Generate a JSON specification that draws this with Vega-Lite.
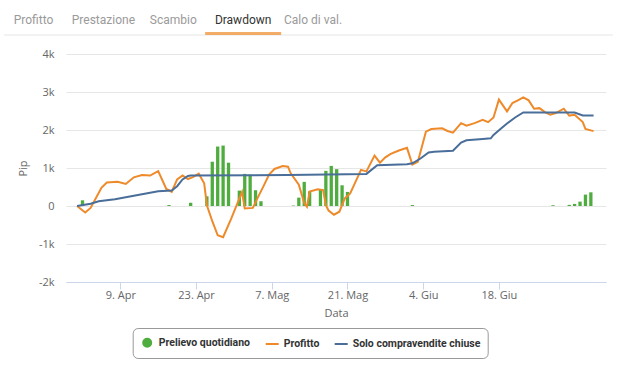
{
  "$schema": "https://vega.github.io/schema/vega-lite/v6.json",
  "padding": {"left": 3, "top": 0, "right": 0, "bottom": 0},
  "autosize": {"type": "pad"},
  "bounds": "flush",
  "spacing": 19,
  "config": {
    "view": {"stroke": null},
    "font": "Open Sans",
    "axis": {"labelFont": "Open Sans", "titleFont": "Open Sans", "labelColor": "#666666", "titleColor": "#666666", "labelFontSize": 11, "titleFontSize": 11, "titleFontWeight": "normal"}
  },
  "datasets": {
    "tabs": [
      {"tab": "Profitto", "active": false},
      {"tab": "Prestazione", "active": false},
      {"tab": "Scambio", "active": false},
      {"tab": "Drawdown", "active": true},
      {"tab": "Calo di val.", "active": false}
    ],
    "series": [
      {"d": "2018-04-02T00:00Z", "s": "Prelievo quotidiano", "v": 150},
      {"d": "2018-04-18T00:00Z", "s": "Prelievo quotidiano", "v": 25},
      {"d": "2018-04-22T00:00Z", "s": "Prelievo quotidiano", "v": 85},
      {"d": "2018-04-25T00:00Z", "s": "Prelievo quotidiano", "v": 255},
      {"d": "2018-04-26T00:00Z", "s": "Prelievo quotidiano", "v": 1165},
      {"d": "2018-04-27T00:00Z", "s": "Prelievo quotidiano", "v": 1565},
      {"d": "2018-04-28T00:00Z", "s": "Prelievo quotidiano", "v": 1590},
      {"d": "2018-04-29T00:00Z", "s": "Prelievo quotidiano", "v": 1140},
      {"d": "2018-05-01T00:00Z", "s": "Prelievo quotidiano", "v": 405},
      {"d": "2018-05-02T00:00Z", "s": "Prelievo quotidiano", "v": 845},
      {"d": "2018-05-03T00:00Z", "s": "Prelievo quotidiano", "v": 825},
      {"d": "2018-05-04T00:00Z", "s": "Prelievo quotidiano", "v": 415},
      {"d": "2018-05-05T00:00Z", "s": "Prelievo quotidiano", "v": 125},
      {"d": "2018-05-11T00:00Z", "s": "Prelievo quotidiano", "v": 12},
      {"d": "2018-05-12T00:00Z", "s": "Prelievo quotidiano", "v": 220},
      {"d": "2018-05-13T00:00Z", "s": "Prelievo quotidiano", "v": 635},
      {"d": "2018-05-14T00:00Z", "s": "Prelievo quotidiano", "v": 385},
      {"d": "2018-05-16T00:00Z", "s": "Prelievo quotidiano", "v": 430},
      {"d": "2018-05-17T00:00Z", "s": "Prelievo quotidiano", "v": 925},
      {"d": "2018-05-18T00:00Z", "s": "Prelievo quotidiano", "v": 1055},
      {"d": "2018-05-19T00:00Z", "s": "Prelievo quotidiano", "v": 970},
      {"d": "2018-05-20T00:00Z", "s": "Prelievo quotidiano", "v": 545},
      {"d": "2018-05-21T00:00Z", "s": "Prelievo quotidiano", "v": 370},
      {"d": "2018-06-02T00:00Z", "s": "Prelievo quotidiano", "v": 25},
      {"d": "2018-06-28T00:00Z", "s": "Prelievo quotidiano", "v": 20},
      {"d": "2018-07-01T00:00Z", "s": "Prelievo quotidiano", "v": 30},
      {"d": "2018-07-02T00:00Z", "s": "Prelievo quotidiano", "v": 55},
      {"d": "2018-07-03T00:00Z", "s": "Prelievo quotidiano", "v": 115},
      {"d": "2018-07-04T00:00Z", "s": "Prelievo quotidiano", "v": 300},
      {"d": "2018-07-05T00:00Z", "s": "Prelievo quotidiano", "v": 360},

      {"d": "2018-04-01T00:00Z", "s": "Profitto", "v": 0},
      {"d": "2018-04-02T12:00Z", "s": "Profitto", "v": -170},
      {"d": "2018-04-03T12:00Z", "s": "Profitto", "v": -50},
      {"d": "2018-04-05T12:00Z", "s": "Profitto", "v": 480},
      {"d": "2018-04-06T12:00Z", "s": "Profitto", "v": 620},
      {"d": "2018-04-08T12:00Z", "s": "Profitto", "v": 640},
      {"d": "2018-04-10T00:00Z", "s": "Profitto", "v": 580},
      {"d": "2018-04-11T12:00Z", "s": "Profitto", "v": 755},
      {"d": "2018-04-13T00:00Z", "s": "Profitto", "v": 815},
      {"d": "2018-04-14T12:00Z", "s": "Profitto", "v": 800},
      {"d": "2018-04-16T00:00Z", "s": "Profitto", "v": 920},
      {"d": "2018-04-17T12:00Z", "s": "Profitto", "v": 450},
      {"d": "2018-04-18T12:00Z", "s": "Profitto", "v": 375},
      {"d": "2018-04-19T12:00Z", "s": "Profitto", "v": 700},
      {"d": "2018-04-20T12:00Z", "s": "Profitto", "v": 805},
      {"d": "2018-04-21T12:00Z", "s": "Profitto", "v": 710},
      {"d": "2018-04-22T12:00Z", "s": "Profitto", "v": 765},
      {"d": "2018-04-23T12:00Z", "s": "Profitto", "v": 850},
      {"d": "2018-04-24T12:00Z", "s": "Profitto", "v": 600},
      {"d": "2018-04-25T00:00Z", "s": "Profitto", "v": 20},
      {"d": "2018-04-26T00:00Z", "s": "Profitto", "v": -400},
      {"d": "2018-04-27T00:00Z", "s": "Profitto", "v": -770},
      {"d": "2018-04-28T00:00Z", "s": "Profitto", "v": -820},
      {"d": "2018-04-29T12:00Z", "s": "Profitto", "v": -330},
      {"d": "2018-05-01T12:00Z", "s": "Profitto", "v": 370},
      {"d": "2018-05-02T00:00Z", "s": "Profitto", "v": -65},
      {"d": "2018-05-03T12:00Z", "s": "Profitto", "v": -50},
      {"d": "2018-05-04T12:00Z", "s": "Profitto", "v": 245},
      {"d": "2018-05-05T12:00Z", "s": "Profitto", "v": 530},
      {"d": "2018-05-06T12:00Z", "s": "Profitto", "v": 830},
      {"d": "2018-05-07T12:00Z", "s": "Profitto", "v": 975},
      {"d": "2018-05-09T00:00Z", "s": "Profitto", "v": 1050},
      {"d": "2018-05-10T00:00Z", "s": "Profitto", "v": 1035},
      {"d": "2018-05-10T12:00Z", "s": "Profitto", "v": 860},
      {"d": "2018-05-12T00:00Z", "s": "Profitto", "v": 560},
      {"d": "2018-05-13T00:00Z", "s": "Profitto", "v": 80},
      {"d": "2018-05-13T12:00Z", "s": "Profitto", "v": -20},
      {"d": "2018-05-14T00:00Z", "s": "Profitto", "v": 380},
      {"d": "2018-05-15T12:00Z", "s": "Profitto", "v": 440},
      {"d": "2018-05-16T12:00Z", "s": "Profitto", "v": 420},
      {"d": "2018-05-17T00:00Z", "s": "Profitto", "v": 20},
      {"d": "2018-05-17T12:00Z", "s": "Profitto", "v": -120},
      {"d": "2018-05-18T12:00Z", "s": "Profitto", "v": -230},
      {"d": "2018-05-19T12:00Z", "s": "Profitto", "v": -150},
      {"d": "2018-05-20T12:00Z", "s": "Profitto", "v": 200},
      {"d": "2018-05-21T12:00Z", "s": "Profitto", "v": 330},
      {"d": "2018-05-22T12:00Z", "s": "Profitto", "v": 640},
      {"d": "2018-05-23T12:00Z", "s": "Profitto", "v": 950},
      {"d": "2018-05-24T12:00Z", "s": "Profitto", "v": 910},
      {"d": "2018-05-26T00:00Z", "s": "Profitto", "v": 1325},
      {"d": "2018-05-27T00:00Z", "s": "Profitto", "v": 1140},
      {"d": "2018-05-28T00:00Z", "s": "Profitto", "v": 1280},
      {"d": "2018-05-29T00:00Z", "s": "Profitto", "v": 1370},
      {"d": "2018-05-30T12:00Z", "s": "Profitto", "v": 1460},
      {"d": "2018-06-01T00:00Z", "s": "Profitto", "v": 1530},
      {"d": "2018-06-02T00:00Z", "s": "Profitto", "v": 1090},
      {"d": "2018-06-03T00:00Z", "s": "Profitto", "v": 1160},
      {"d": "2018-06-04T12:00Z", "s": "Profitto", "v": 1955},
      {"d": "2018-06-05T12:00Z", "s": "Profitto", "v": 2025},
      {"d": "2018-06-07T12:00Z", "s": "Profitto", "v": 2045},
      {"d": "2018-06-08T12:00Z", "s": "Profitto", "v": 1975},
      {"d": "2018-06-09T12:00Z", "s": "Profitto", "v": 1930},
      {"d": "2018-06-11T00:00Z", "s": "Profitto", "v": 2180},
      {"d": "2018-06-12T00:00Z", "s": "Profitto", "v": 2115},
      {"d": "2018-06-13T12:00Z", "s": "Profitto", "v": 2180},
      {"d": "2018-06-15T00:00Z", "s": "Profitto", "v": 2265},
      {"d": "2018-06-16T00:00Z", "s": "Profitto", "v": 2205},
      {"d": "2018-06-17T00:00Z", "s": "Profitto", "v": 2330},
      {"d": "2018-06-18T00:00Z", "s": "Profitto", "v": 2800},
      {"d": "2018-06-19T12:00Z", "s": "Profitto", "v": 2490},
      {"d": "2018-06-20T12:00Z", "s": "Profitto", "v": 2710},
      {"d": "2018-06-21T12:00Z", "s": "Profitto", "v": 2780},
      {"d": "2018-06-22T12:00Z", "s": "Profitto", "v": 2860},
      {"d": "2018-06-23T12:00Z", "s": "Profitto", "v": 2780},
      {"d": "2018-06-24T12:00Z", "s": "Profitto", "v": 2560},
      {"d": "2018-06-25T12:00Z", "s": "Profitto", "v": 2575},
      {"d": "2018-06-26T12:00Z", "s": "Profitto", "v": 2470},
      {"d": "2018-06-27T12:00Z", "s": "Profitto", "v": 2400},
      {"d": "2018-06-28T12:00Z", "s": "Profitto", "v": 2445},
      {"d": "2018-06-30T00:00Z", "s": "Profitto", "v": 2560},
      {"d": "2018-07-01T00:00Z", "s": "Profitto", "v": 2380},
      {"d": "2018-07-02T00:00Z", "s": "Profitto", "v": 2400},
      {"d": "2018-07-03T12:00Z", "s": "Profitto", "v": 2210},
      {"d": "2018-07-04T00:00Z", "s": "Profitto", "v": 2030},
      {"d": "2018-07-05T12:00Z", "s": "Profitto", "v": 1970},

      {"d": "2018-04-01T00:00Z", "s": "Solo compravendite chiuse", "v": 0},
      {"d": "2018-04-03T12:00Z", "s": "Solo compravendite chiuse", "v": 60},
      {"d": "2018-04-05T00:00Z", "s": "Solo compravendite chiuse", "v": 125},
      {"d": "2018-04-08T00:00Z", "s": "Solo compravendite chiuse", "v": 180},
      {"d": "2018-04-11T12:00Z", "s": "Solo compravendite chiuse", "v": 270},
      {"d": "2018-04-13T12:00Z", "s": "Solo compravendite chiuse", "v": 320},
      {"d": "2018-04-16T00:00Z", "s": "Solo compravendite chiuse", "v": 390},
      {"d": "2018-04-18T12:00Z", "s": "Solo compravendite chiuse", "v": 410},
      {"d": "2018-04-19T12:00Z", "s": "Solo compravendite chiuse", "v": 520},
      {"d": "2018-04-20T12:00Z", "s": "Solo compravendite chiuse", "v": 700},
      {"d": "2018-04-21T12:00Z", "s": "Solo compravendite chiuse", "v": 790},
      {"d": "2018-04-22T00:00Z", "s": "Solo compravendite chiuse", "v": 800},
      {"d": "2018-05-10T00:00Z", "s": "Solo compravendite chiuse", "v": 815},
      {"d": "2018-05-24T12:00Z", "s": "Solo compravendite chiuse", "v": 845},
      {"d": "2018-05-26T12:00Z", "s": "Solo compravendite chiuse", "v": 1075},
      {"d": "2018-06-01T00:00Z", "s": "Solo compravendite chiuse", "v": 1100},
      {"d": "2018-06-02T00:00Z", "s": "Solo compravendite chiuse", "v": 1125},
      {"d": "2018-06-03T12:00Z", "s": "Solo compravendite chiuse", "v": 1250},
      {"d": "2018-06-05T00:00Z", "s": "Solo compravendite chiuse", "v": 1410},
      {"d": "2018-06-06T00:00Z", "s": "Solo compravendite chiuse", "v": 1430},
      {"d": "2018-06-09T12:00Z", "s": "Solo compravendite chiuse", "v": 1455},
      {"d": "2018-06-11T00:00Z", "s": "Solo compravendite chiuse", "v": 1670},
      {"d": "2018-06-12T00:00Z", "s": "Solo compravendite chiuse", "v": 1730},
      {"d": "2018-06-15T00:00Z", "s": "Solo compravendite chiuse", "v": 1765},
      {"d": "2018-06-16T12:00Z", "s": "Solo compravendite chiuse", "v": 1780},
      {"d": "2018-06-17T00:00Z", "s": "Solo compravendite chiuse", "v": 1870},
      {"d": "2018-06-18T12:00Z", "s": "Solo compravendite chiuse", "v": 2050},
      {"d": "2018-06-19T12:00Z", "s": "Solo compravendite chiuse", "v": 2170},
      {"d": "2018-06-21T00:00Z", "s": "Solo compravendite chiuse", "v": 2330},
      {"d": "2018-06-22T12:00Z", "s": "Solo compravendite chiuse", "v": 2460},
      {"d": "2018-07-02T00:00Z", "s": "Solo compravendite chiuse", "v": 2460},
      {"d": "2018-07-03T12:00Z", "s": "Solo compravendite chiuse", "v": 2380},
      {"d": "2018-07-05T12:00Z", "s": "Solo compravendite chiuse", "v": 2380}
    ]
  },
  "vconcat": [
    {
      "width": 540,
      "height": 35,
      "layer": [
        {
          "data": {"values": [{"line": "separator"}]},
          "mark": {"type": "rule", "color": "#e6e6e6", "strokeWidth": 1},
          "encoding": {
            "x": {"datum": 0, "type": "quantitative", "scale": {"domain": [0, 1], "range": [-62, 547]}, "axis": null},
            "x2": {"datum": 1},
            "y": {"datum": 0, "type": "quantitative", "scale": {"domain": [0, 1]}, "axis": null}
          }
        },
        {
          "data": {"name": "tabs"},
          "layer": [
            {
              "mark": {"type": "text", "fontSize": 12, "baseline": "middle", "dy": 2, "font": "Roboto"},
              "encoding": {
                "x": {"field": "tab", "type": "nominal", "sort": null, "scale": {"type": "point", "padding": 0, "range": [-32.5, 247]}, "axis": null},
                "text": {"field": "tab"},
                "color": {"condition": {"test": "datum.active", "value": "#333333"}, "value": "#9a9a9a"},
                "fontWeight": {"condition": {"test": "datum.active", "value": "bold"}, "value": "normal"}
              }
            },
            {
              "transform": [{"filter": "datum.active"}],
              "mark": {"type": "tick", "orient": "horizontal", "thickness": 3, "size": 76, "color": "#ee8a2a", "yOffset": -1.5},
              "encoding": {
                "x": {"field": "tab", "type": "nominal", "sort": null, "axis": null},
                "y": {"datum": 0, "type": "quantitative", "axis": null}
              }
            }
          ]
        }
      ],
      "resolve": {"scale": {"x": "independent"}}
    },
    {
      "width": 540,
      "height": 228,
      "data": {"name": "series"},
      "encoding": {
        "x": {
          "field": "d", "type": "temporal",
          "scale": {"type": "utc", "domain": [{"year": 2018, "month": 3, "date": 30, "hours": 21, "utc": true}, {"year": 2018, "month": 7, "date": 6, "hours": 21, "utc": true}]},
          "axis": {
            "values": [
              {"year": 2018, "month": 4, "date": 9, "utc": true},
              {"year": 2018, "month": 4, "date": 23, "utc": true},
              {"year": 2018, "month": 5, "date": 7, "utc": true},
              {"year": 2018, "month": 5, "date": 21, "utc": true},
              {"year": 2018, "month": 6, "date": 4, "utc": true},
              {"year": 2018, "month": 6, "date": 18, "utc": true}
            ],
            "labelExpr": "utcdate(datum.value) + '. ' + ['Gen','Feb','Mar','Apr','Mag','Giu','Lug','Ago','Set','Ott','Nov','Dic'][utcmonth(datum.value)]",
            "grid": false, "domainColor": "#ccd6eb", "tickColor": "#ccd6eb", "tickSize": 7,
            "labelPadding": 0, "labelFlush": false, "labelOverlap": false,
            "title": "Data", "titlePadding": 7
          }
        },
        "y": {
          "field": "v", "type": "quantitative",
          "scale": {"domain": [-2000, 4000], "nice": false, "zero": false},
          "axis": {
            "values": [-2000, -1000, 0, 1000, 2000, 3000, 4000],
            "labelExpr": "datum.value === 0 ? '0' : (datum.value / 1000) + 'k'",
            "grid": true, "gridColor": "#e6e6e6", "domain": false, "ticks": false,
            "labelPadding": 12, "title": "Pip", "titlePadding": 10
          }
        },
        "color": {
          "field": "s", "type": "nominal",
          "scale": {"domain": ["Prelievo quotidiano", "Profitto", "Solo compravendite chiuse"], "range": ["#4fad3f", "#ee8a2a", "#4a6e9a"]},
          "legend": {
            "title": null, "orient": "none", "legendX": 66.7, "legendY": 328, "direction": "horizontal",
            "strokeColor": "#999999", "cornerRadius": 5, "padding": 7,
            "labelFont": "Roboto", "labelFontSize": 10.5, "labelFontWeight": "bold", "labelColor": "#333333",
            "symbolSize": 169, "labelOffset": 4, "columnPadding": 11,
            "encode": {
              "symbols": {
                "update": {
                  "shape": {"signal": "datum.value === 'Prelievo quotidiano' ? 'circle' : 'stroke'"},
                  "size": {"signal": "datum.value === 'Prelievo quotidiano' ? 64 : 169"},
                  "stroke": {"scale": "color", "field": "value"},
                  "fill": {"scale": "color", "field": "value"},
                  "strokeWidth": {"value": 2}
                }
              }
            }
          }
        }
      },
      "layer": [
        {
          "transform": [{"filter": "datum.s === 'Prelievo quotidiano'"}],
          "mark": {"type": "bar", "size": 3.3}
        },
        {
          "transform": [{"filter": "datum.s === 'Profitto'"}],
          "mark": {"type": "line", "strokeWidth": 2}
        },
        {
          "transform": [{"filter": "datum.s === 'Solo compravendite chiuse'"}],
          "mark": {"type": "line", "strokeWidth": 2}
        }
      ]
    }
  ]
}
